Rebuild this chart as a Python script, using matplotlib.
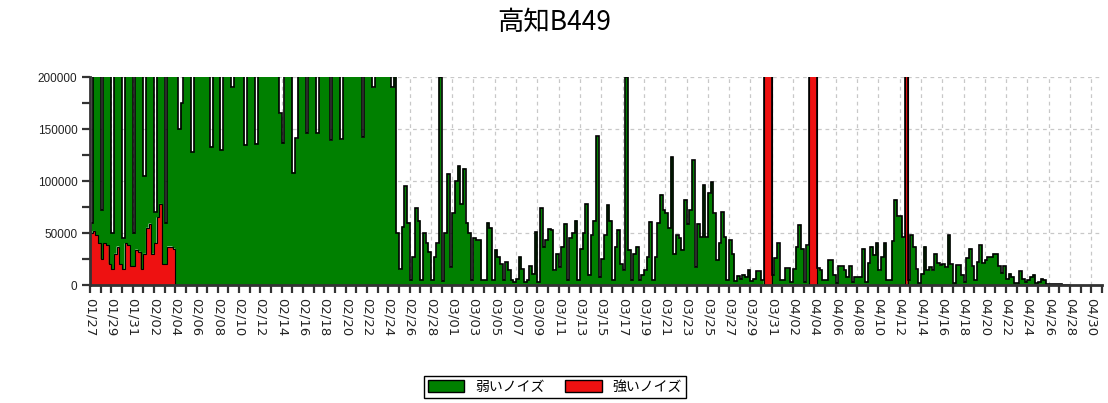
import datetime as dt
import numpy as np
import matplotlib.pyplot as plt
from matplotlib.patches import Patch
from matplotlib.ticker import MultipleLocator, FixedLocator

# chart text
title = '高知B449'
legend_labels = ['弱いノイズ', '強いノイズ']
start = dt.date(2024, 1, 27)   # 02/28 -> 03/01 step of 2 days => leap year
axis_days = 95                 # 01/27 .. 05/01

# weak noise, 4 values per day (6h), one row per day from 01/27
weak_rows = [
    [10000, 230000, 230000, 230000],   # 01/27
    [47000, 230000, 230000, 230000],
    [35000, 230000, 230000, 230000],
    [30000, 230000, 230000, 230000],
    [32000, 230000, 230000, 230000],   # 01/31
    [75000, 230000, 230000, 230000],
    [30000, 230000, 230000, 230000],
    [40000, 230000, 230000, 230000],
    [230000, 150000, 175000, 230000],  # 02/04
    [230000, 230000, 128000, 230000],
    [230000, 230000, 230000, 230000],
    [230000, 133000, 230000, 230000],
    [230000, 130000, 230000, 230000],
    [230000, 190000, 230000, 230000],
    [230000, 230000, 135000, 230000],  # 02/10
    [230000, 230000, 136000, 230000],
    [230000, 230000, 230000, 230000],
    [230000, 230000, 230000, 165000],
    [137000, 230000, 230000, 230000],
    [108000, 141000, 230000, 230000],  # 02/15
    [230000, 146000, 230000, 230000],
    [230000, 146000, 230000, 230000],
    [230000, 230000, 139000, 230000],
    [230000, 230000, 140000, 230000],
    [230000, 230000, 230000, 230000],  # 02/20
    [230000, 230000, 142000, 230000],
    [230000, 230000, 190000, 230000],
    [230000, 230000, 230000, 230000],
    [230000, 190000, 230000, 50000],   # 02/24
    [15000, 56000, 95000, 60000],
    [5000, 27000, 74000, 62000],       # 02/26
    [5000, 50000, 40000, 32000],
    [5000, 27000, 40000, 200000],      # 02/28
    [4000, 50000, 107000, 17000],
    [69000, 100000, 114000, 78000],    # 03/01
    [112000, 60000, 50000, 5000],
    [45000, 43000, 43000, 5000],
    [5000, 60000, 55000, 5000],
    [34000, 27000, 20000, 5000],
    [22000, 14000, 5000, 3000],        # 03/06
    [6000, 27000, 15000, 3000],
    [5000, 18000, 11000, 51000],
    [3000, 74000, 37000, 43000],
    [54000, 53000, 14000, 30000],
    [17000, 37000, 59000, 5000],       # 03/11
    [45000, 50000, 62000, 5000],
    [35000, 50000, 78000, 10000],
    [48000, 62000, 143000, 8000],
    [25000, 48000, 77000, 62000],
    [5000, 37000, 53000, 20000],       # 03/16
    [14000, 200000, 34000, 5000],
    [30000, 37000, 5000, 10000],
    [14000, 27000, 61000, 5000],
    [27000, 60000, 87000, 72000],
    [69000, 55000, 123000, 30000],     # 03/21
    [48000, 45000, 34000, 82000],
    [59000, 72000, 120000, 17000],
    [59000, 46000, 96000, 46000],
    [88000, 99000, 69000, 24000],
    [40000, 70000, 46000, 5000],       # 03/26
    [43000, 30000, 4000, 9000],
    [6000, 10000, 8000, 14000],
    [4000, 6000, 13000, 13000],
    [5000, 0, 0, 0],
    [10000, 26000, 40000, 5000],       # 03/31
    [5000, 16000, 16000, 3000],
    [15000, 37000, 58000, 35000],
    [3000, 38000, 0, 0],
    [0, 16000, 14000, 5000],
    [5000, 24000, 24000, 10000],       # 04/05
    [2000, 18000, 18000, 14000],
    [8000, 18000, 3000, 8000],
    [8000, 8000, 35000, 3000],
    [21000, 37000, 29000, 40000],
    [14000, 27000, 40000, 5000],       # 04/10
    [5000, 42000, 82000, 66000],
    [66000, 46000, 0, 5000],
    [48000, 37000, 15000, 2000],
    [11000, 37000, 14000, 17000],
    [14000, 30000, 21000, 19000],      # 04/15
    [20000, 17000, 48000, 20000],
    [2000, 19000, 19000, 10000],
    [3000, 26000, 35000, 18000],
    [5000, 22000, 38000, 21000],
    [24000, 27000, 27000, 30000],      # 04/20
    [30000, 18000, 12000, 18000],
    [6000, 11000, 8000, 2000],
    [2000, 13000, 6000, 3000],
    [5000, 8000, 10000, 2000],
    [3000, 6000, 5000, 1000],          # 04/25
    [500, 500, 500, 500],
    [500, 0, 0, 0],
]

# strong noise, first days (4 values per day)
strong_rows = [
    [50000, 52000, 48000, 40000],
    [25000, 40000, 38000, 20000],
    [15000, 30000, 37000, 20000],
    [15000, 40000, 38000, 18000],
    [18000, 34000, 32000, 15000],
    [30000, 55000, 59000, 30000],
    [40000, 65000, 78000, 20000],
    [20000, 37000, 37000, 35000],
]
# off-scale strong noise bursts (start day of each 6h slot)
spike_days = [63.25, 63.5, 63.75, 67.5, 67.75, 68.0, 76.5]
spike_value = 230000

weak = np.array(weak_rows, dtype=float).ravel()
strong = np.zeros_like(weak)
strong[:len(strong_rows) * 4] = np.array(strong_rows, dtype=float).ravel()
for d in spike_days:
    strong[int(round(d * 4))] = spike_value
total = strong + weak
edges = np.arange(len(weak) + 1) / 4

green = '#008000'
red = '#ee1111'

fig = plt.figure(figsize=(11.08, 4.03), dpi=100)
ax = fig.add_axes([90 / 1108, 1 - 285 / 403, (1102 - 90) / 1108, (285 - 77) / 403])

ax.stairs(strong, edges, baseline=0, fill=True, color=red, lw=0)
ax.stairs(total, edges, baseline=strong, fill=True, color=green, lw=0)
ax.stairs(strong, edges, baseline=None, color='black', lw=0.8)
ax.stairs(total, edges, baseline=None, color='black', lw=1.2)

ax.set_xlim(0, axis_days)
ax.set_ylim(0, 200000)

# ticks
label_days = list(range(0, axis_days, 2))
ax.xaxis.set_major_locator(FixedLocator(label_days))
ax.xaxis.set_minor_locator(MultipleLocator(1))
ax.set_xticklabels([(start + dt.timedelta(days=d)).strftime('%m/%d') for d in label_days],
                   rotation=-90, fontsize=9.5, color='#222222')
ax.yaxis.set_major_locator(MultipleLocator(50000))
ax.yaxis.set_minor_locator(MultipleLocator(25000))
ax.set_yticklabels([f'{int(v)}' for v in ax.get_yticks()], family='Liberation Sans',
                   fontsize=8.5, color='#222222')
ax.tick_params(which='both', direction='out', length=6, width=1.6, color='#333333')
ax.tick_params(axis='y', pad=3)

ax.grid(True, which='major', color='#c8c8c8', linestyle=(0, (3, 3)), lw=0.9)
ax.set_axisbelow(True)

for side in ['top', 'right']:
    ax.spines[side].set_visible(False)
for side in ['left', 'bottom']:
    ax.spines[side].set_color('#333333')
    ax.spines[side].set_linewidth(2)

fig.text(0.5, 1 - 22 / 403, title, ha='center', va='center', fontsize=19,
         family=['Noto Sans CJK JP', 'DejaVu Sans'])

handles = [Patch(facecolor=green, edgecolor='black', label=legend_labels[0]),
           Patch(facecolor=red, edgecolor='black', label=legend_labels[1])]
leg = fig.legend(handles=handles, loc='center', bbox_to_anchor=(555 / 1108, 1 - 387 / 403),
                 ncol=2, frameon=True, fancybox=False, edgecolor='black', framealpha=1,
                 prop={'family': 'Noto Sans CJK JP', 'size': 10},
                 handlelength=2.6, handleheight=1.0, borderpad=0.3,
                 columnspacing=1.5, handletextpad=0.8)
leg.get_frame().set_linewidth(1)

fig.savefig('out.png', dpi=100)
